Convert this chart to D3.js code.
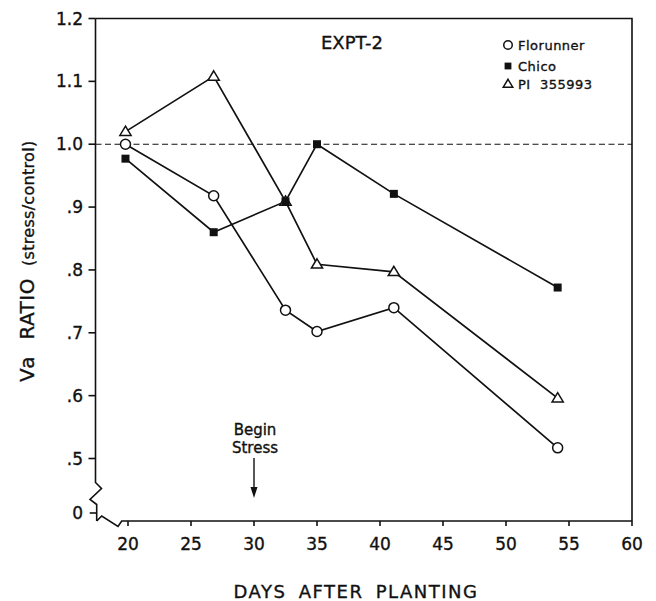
<!DOCTYPE html>
<html>
<head>
<meta charset="utf-8">
<script src="https://cdn.jsdelivr.net/npm/d3@7"></script>
<style>
  body { margin: 0; background: #fff; }
  text { font-family: "DejaVu Sans", sans-serif; fill: #111; stroke: #111; stroke-width: 0.35px; }
</style>
</head>
<body>
<div id="chart"></div>
<script>
// data
var days = [19.8, 26.8, 32.5, 35, 41.1, 54.1]
var florunner = [1.0, 0.918, 0.736, 0.702, 0.74, 0.517]
var chico = [0.977, 0.86, 0.909, 1.0, 0.921, 0.772]
var pi355993 = [1.02, 1.108, 0.909, 0.809, 0.797, 0.596]
var seriesNames = ["Florunner", "Chico", "PI  355993"]
var xTicks = [20, 25, 30, 35, 40, 45, 50, 55, 60]
var yTicks = [0, 0.5, 0.6, 0.7, 0.8, 0.9, 1.0, 1.1, 1.2]
var yTickLabels = ["0", ".5", ".6", ".7", ".8", ".9", "1.0", "1.1", "1.2"]
var stressDay = 30
var refRatio = 1.0

var W = 656, H = 601
// frame of the plot
var frame = {left: 95.5, right: 632, top: 18.5, bottom: 521}

var svg = d3.select("#chart").append("svg")
    .attr("width", W)
    .attr("height", H)

var x = d3.scaleLinear()
    .domain([20, 60])
    .range([128, frame.right])

// broken axis: 0 sits just above the break, .5 - 1.2 is linear
var y = d3.scaleLinear()
    .domain([0, 0.5, 1.2])
    .range([513, 458.5, frame.top])

var ink = "#111"

// frame: top and right
svg.append("path")
    .attr("d", "M" + frame.left + "," + frame.top + "H" + frame.right + "V" + frame.bottom)
    .attr("fill", "none").attr("stroke", ink).attr("stroke-width", 1.6)

// left axis with break
var yb = frame.bottom
svg.append("path")
    .attr("d", "M" + frame.left + "," + frame.top + "V482.5"
        + "L101.5,488.5L90,499.5L96.7,504.5V" + yb)
    .attr("fill", "none").attr("stroke", ink).attr("stroke-width", 1.6)

// bottom axis with break
svg.append("path")
    .attr("d", "M96.7," + yb + "L101.7,516L118,526.5L121.7," + yb + "H" + frame.right)
    .attr("fill", "none").attr("stroke", ink).attr("stroke-width", 1.6)

// y ticks
svg.selectAll(".ytick").data(yTicks).enter().append("line")
    .attr("class", "ytick")
    .attr("x1", function(d){ return d == 0 ? 96.7 : frame.left })
    .attr("x2", function(d){ return (d == 0 ? 96.7 : frame.left) - 7 })
    .attr("y1", function(d){ return y(d) })
    .attr("y2", function(d){ return y(d) })
    .attr("stroke", ink).attr("stroke-width", 1.6)

svg.selectAll(".ylab").data(yTicks).enter().append("text")
    .attr("class", "ylab")
    .attr("x", 83)
    .attr("y", function(d){ return y(d) + 6 })
    .attr("text-anchor", "end")
    .style("font-size", "17px")
    .text(function(d, i){ return yTickLabels[i] })

// x ticks
svg.selectAll(".xtick").data(xTicks).enter().append("line")
    .attr("class", "xtick")
    .attr("x1", function(d){ return x(d) })
    .attr("x2", function(d){ return x(d) })
    .attr("y1", yb)
    .attr("y2", yb + 5)
    .attr("stroke", ink).attr("stroke-width", 1.6)

svg.selectAll(".xlab").data(xTicks).enter().append("text")
    .attr("class", "xlab")
    .attr("x", function(d){ return x(d) })
    .attr("y", 550)
    .attr("text-anchor", "middle")
    .style("font-size", "17px")
    .text(function(d){ return d })

// dashed reference at 1.0
svg.append("line")
    .attr("x1", frame.left).attr("x2", frame.right)
    .attr("y1", y(refRatio)).attr("y2", y(refRatio))
    .attr("stroke", ink).attr("stroke-width", 1.1)
    .attr("stroke-dasharray", "6,3.5")

// axis titles
svg.append("text")
    .attr("x", 356).attr("y", 598)
    .attr("text-anchor", "middle")
    .style("font-size", "18px")
    .style("letter-spacing", "1.5px")
    .style("word-spacing", "5px")
    .text("DAYS AFTER PLANTING")

var ylab = svg.append("text")
    .attr("transform", "translate(34,382) rotate(-90)")
    .style("font-size", "20px")
ylab.append("tspan").style("letter-spacing", "1px").text("Va")
ylab.append("tspan").attr("dx", 16).style("letter-spacing", "0.5px").text("RATIO")
ylab.append("tspan").attr("dx", 12).style("font-size", "16px").style("letter-spacing", "0.3px").text("(stress/control)")

// EXPT label
svg.append("text")
    .attr("x", 321).attr("y", 49)
    .style("font-size", "18px")
    .text("EXPT-2")

// Begin stress annotation
svg.append("text")
    .attr("x", x(stressDay) + 1).attr("y", 435)
    .attr("text-anchor", "middle")
    .style("font-size", "15px")
    .text("Begin")
svg.append("text")
    .attr("x", x(stressDay) + 1).attr("y", 453)
    .attr("text-anchor", "middle")
    .style("font-size", "15px")
    .text("Stress")
svg.append("line")
    .attr("x1", x(stressDay)).attr("x2", x(stressDay))
    .attr("y1", 458).attr("y2", 490)
    .attr("stroke", ink).attr("stroke-width", 1.4)
svg.append("path")
    .attr("d", "M" + (x(stressDay) - 3.5) + ",487L" + (x(stressDay) + 3.5) + ",487L" + x(stressDay) + ",498Z")
    .attr("fill", ink)

// series
var series = [
  {name: seriesNames[0], vals: florunner, shape: "circle"},
  {name: seriesNames[1], vals: chico, shape: "square"},
  {name: seriesNames[2], vals: pi355993, shape: "triangle"}
]

var line = d3.line()
    .x(function(d){ return x(d[0]) })
    .y(function(d){ return y(d[1]) })

series.forEach(function(s){
  s.pts = days.map(function(d, i){ return [d, s.vals[i]] })
  svg.append("path")
      .datum(s.pts)
      .attr("d", line)
      .attr("fill", "none")
      .attr("stroke", ink)
      .attr("stroke-width", 1.7)
})

function drawMarker(g, shape, cx, cy, k){
  k = k || 1
  if (shape == "circle") {
    g.append("circle").attr("cx", cx).attr("cy", cy).attr("r", 5 * k)
        .attr("fill", "#fff").attr("stroke", ink).attr("stroke-width", 1.5)
  } else if (shape == "square") {
    var s = 8 * k
    g.append("rect").attr("x", cx - s/2).attr("y", cy - s/2)
        .attr("width", s).attr("height", s).attr("fill", ink)
  } else {
    g.append("path")
        .attr("d", "M" + cx + "," + (cy - 5.5*k) + "L" + (cx + 5.6*k) + "," + (cy + 3.8*k)
            + "L" + (cx - 5.6*k) + "," + (cy + 3.8*k) + "Z")
        .attr("fill", "#fff").attr("stroke", ink).attr("stroke-width", 1.5)
  }
}

// triangles and circles first, squares on top
var order = [2, 0, 1]
order.forEach(function(j){
  var s = series[j]
  s.pts.forEach(function(p){ drawMarker(svg, s.shape, x(p[0]), y(p[1])) })
})

// legend
var legY = [45, 66, 84]
series.forEach(function(s, i){
  drawMarker(svg, s.shape, 508, legY[i], 0.85)
  svg.append("text")
      .attr("x", 518).attr("y", legY[i] + 4.5)
      .style("font-size", "13px")
      .style("letter-spacing", "0.5px")
      .style("white-space", "pre")
      .text(s.name)
})
</script>
</body>
</html>
